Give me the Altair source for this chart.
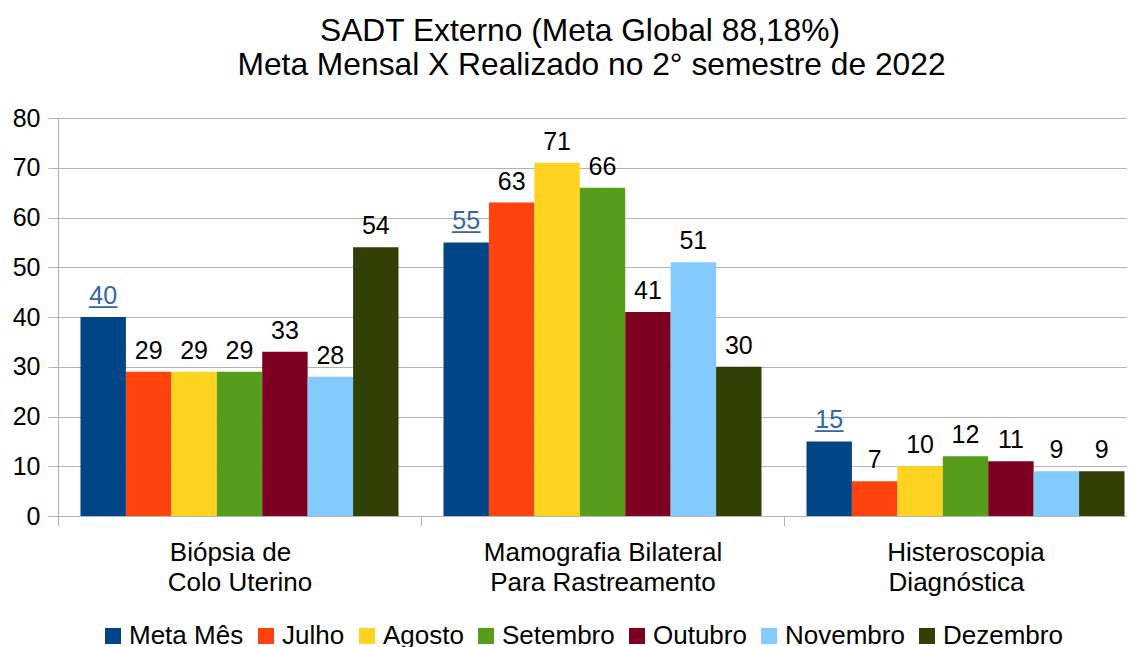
import altair as alt
import pandas as pd

PAD = "\u2800"
categories = ["Biópsia de" + PAD + "|Colo Uterino", "Mamografia Bilateral|Para Rastreamento", "Histeroscopia|Diagnóstica" + PAD]
series = ["Meta Mês", "Julho", "Agosto", "Setembro", "Outubro", "Novembro", "Dezembro"]
colors = ["#004586", "#ff420e", "#ffd320", "#579d1c", "#7e0021", "#83caff", "#314004"]
meta_mes = [40, 55, 15]
julho = [29, 63, 7]
agosto = [29, 71, 10]
setembro = [29, 66, 12]
outubro = [33, 41, 11]
novembro = [28, 51, 9]
dezembro = [54, 30, 9]
y_ticks = [0, 10, 20, 30, 40, 50, 60, 70, 80]
title_lines = ["SADT Externo (Meta Global 88,18%)" + PAD, "Meta Mensal X Realizado no 2° semestre de 2022"]

rows = []
for s, vals in zip(series, [meta_mes, julho, agosto, setembro, outubro, novembro, dezembro]):
    for c, v in zip(categories, vals):
        rows.append({"cat": c, "serie": s, "valor": v, "is_meta": s == "Meta Mês"})
df = pd.DataFrame(rows)

FONT = "Liberation Sans"
GRID = "#b3b3b3"

x_enc = alt.X(
    "cat:N",
    sort=categories,
    scale=alt.Scale(range=[0, 1089], paddingInner=0, paddingOuter=0),
    axis=alt.Axis(
        title=None, labelAngle=0, labelExpr="split(datum.label, '|')",
        labelFontSize=26, labelLineHeight=30, labelFont=FONT, labelColor="black",
        labelLimit=600, labelPadding=13, labelBaseline="top",
        tickBand="extent", ticks=True, tickSize=10, tickColor=GRID, tickWidth=1,
        domain=True, domainColor=GRID, grid=False,
    ),
)
xo_enc = alt.XOffset("serie:N", sort=series, scale=alt.Scale(paddingInner=0, paddingOuter=0.495))
y_enc = alt.Y(
    "valor:Q",
    scale=alt.Scale(domain=[0, 80], nice=False),
    axis=alt.Axis(
        title=None, values=y_ticks, labelFontSize=25, labelFont=FONT, labelColor="black",
        labelPadding=8, tickSize=10, tickColor=GRID, domain=True, domainColor=GRID,
        grid=True, gridColor=GRID, gridWidth=1,
    ),
)

base = alt.Chart(df)

bars = base.mark_bar(strokeWidth=0).encode(
    x=x_enc, xOffset=xo_enc, y=y_enc,
    color=alt.Color(
        "serie:N", sort=series,
        scale=alt.Scale(domain=series, range=colors),
        legend=alt.Legend(
            title=None, orient="none", direction="horizontal", legendX=42, legendY=505,
            symbolType="square", symbolSize=256, symbolStrokeWidth=0,
            labelFontSize=26, labelFont=FONT, labelColor="black", labelOffset=3,
            columnPadding=9, padding=0, labelLimit=400, gridAlign="none",
        ),
    ),
)

labels = base.transform_filter("!datum.is_meta").mark_text(
    dy=-13, baseline="alphabetic", fontSize=25, font=FONT, color="black"
).encode(x=x_enc, xOffset=xo_enc, y=y_enc, text="valor:Q")

meta_labels = base.transform_filter("datum.is_meta").mark_text(
    dy=-13, baseline="alphabetic", fontSize=25, font=FONT, color="#3465a4"
).encode(x=x_enc, xOffset=xo_enc, y=y_enc, text="valor:Q")

meta_underline = base.transform_filter("datum.is_meta").mark_text(
    dy=-14.5, baseline="alphabetic", fontSize=25, font=FONT, color="#3465a4", text="__"
).encode(x=x_enc, xOffset=xo_enc, y=y_enc)

chart = alt.layer(bars, labels, meta_labels, meta_underline).properties(
    width=1069, height=398,
    title=alt.Title(
        text=title_lines, fontSize=31.75, font=FONT, fontWeight="normal", color="black",
        anchor="middle", lineHeight=34, baseline="bottom", frame="group", offset=25,
        dy=32.5, dx=-1,
    ),
    autosize=alt.AutoSizeParams(type="none"),
    padding={"left": 50, "top": 110, "right": 0, "bottom": 131},
).configure_view(stroke=None).configure(background="white")

chart.save("out.html", embed_options={"renderer": "svg", "actions": False})
